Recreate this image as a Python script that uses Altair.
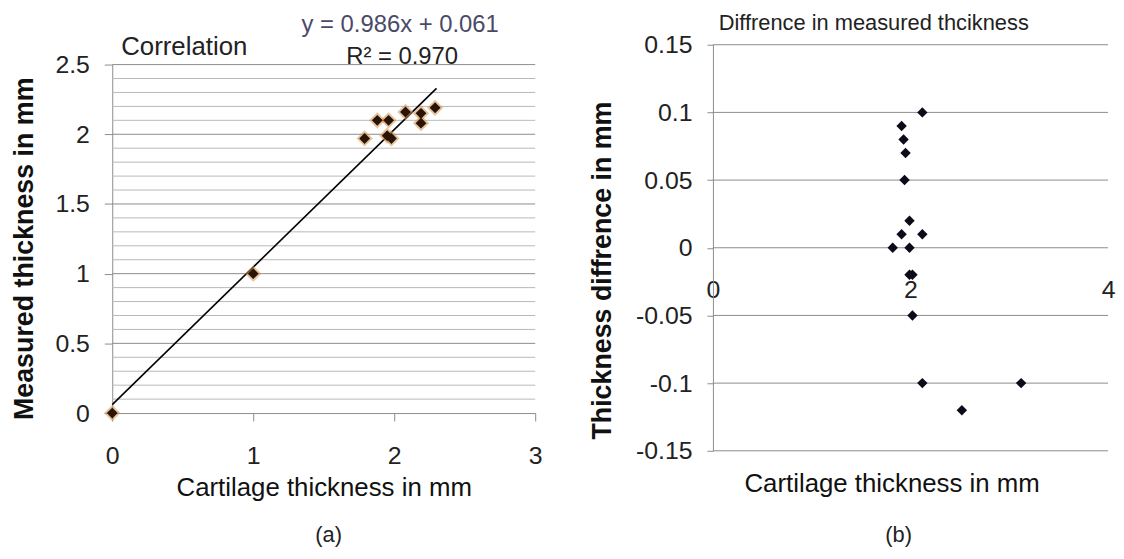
import altair as alt
import pandas as pd

# ---------------- Panel (a): correlation ----------------
cart_a = [0, 1, 1.79, 1.88, 1.96, 1.95, 1.98, 2.08, 2.19, 2.19, 2.29]
meas_a = [0, 1, 1.97, 2.10, 2.10, 1.99, 1.97, 2.16, 2.15, 2.08, 2.19]
trend_x = [0, 2.3]
trend_y = [0.061, 2.329]
a_x_ticks = [0, 1, 2, 3]
a_y_ticks = [0, 0.5, 1, 1.5, 2, 2.5]
a_grid_minor = [0.1, 0.2, 0.3, 0.4, 0.6, 0.7, 0.8, 0.9, 1.1, 1.2, 1.3, 1.4,
                1.6, 1.7, 1.8, 1.9, 2.1, 2.2, 2.3, 2.4]
a_grid_major = [0.5, 1, 1.5, 2, 2.5]

# ---------------- Panel (b): difference ----------------
cart_b = [2.12, 1.91, 1.93, 1.95, 1.94, 1.99, 1.91, 2.12, 1.82, 1.99,
          1.99, 2.02, 2.02, 2.12, 3.12, 2.52]
diff_b = [0.10, 0.09, 0.08, 0.07, 0.05, 0.02, 0.01, 0.01, 0.0, 0.0,
          -0.02, -0.02, -0.05, -0.10, -0.10, -0.12]
b_x_ticks = [0, 2, 4]
b_y_ticks = [-0.15, -0.1, -0.05, 0, 0.05, 0.1, 0.15]

FONT = "Liberation Sans"
GRID = "#8c8c8c"
MINOR = "#b8b8b8"
lab_expr = "datum.value < 0 ? '-' + format(-datum.value, '~g') : format(datum.value, '~g')"

df_a = pd.DataFrame({"cart": cart_a, "meas": meas_a})
df_t = pd.DataFrame({"tx": trend_x, "ty": trend_y})
df_gmin = pd.DataFrame({"g": a_grid_minor})
df_gmaj = pd.DataFrame({"g": a_grid_major})
df_b = pd.DataFrame({"cart": cart_b, "diff": diff_b})
df_gb = pd.DataFrame({"g": b_y_ticks})

PH = 409  # common panel height
xa = alt.Scale(domain=[0, 3], nice=False, zero=False)
ya = alt.Scale(domain=[0, 2.5], range=[371, 20], nice=False, zero=False)
xb = alt.Scale(domain=[0, 4], nice=False, zero=False)
yb = alt.Scale(domain=[-0.15, 0.15], nice=False, zero=False)

axis_common = dict(labelFont=FONT, labelColor="#222222", titleFont=FONT,
                   titleColor="#111111", labelFlush=False, labelOverlap=False,
                   grid=False, labelExpr=lab_expr)

ax_xa = alt.Axis(
    orient="bottom", offset=-38, values=a_x_ticks, tickSize=8,
    tickColor=GRID, domainColor=GRID, labelFontSize=25,
    labelBaseline="middle", labelPadding=35,
    title="Cartilage thickness in mm", titleFontSize=26,
    titleFontWeight="normal", titleX=213, titleY=75,
    titleBaseline="middle", titleAlign="center", **axis_common)
ax_ya = alt.Axis(
    orient="left", values=a_y_ticks, tickSize=8,
    tickColor=GRID, domainColor=GRID, labelFontSize=25,
    labelPadding=15, labelBaseline="middle",
    title="Measured thickness in mm", titleFontSize=27,
    titleFontWeight="bold", titleAngle=270, titleX=-88, titleY=205,
    titleAlign="center", titleBaseline="middle", **axis_common)
ax_xb = alt.Axis(
    orient="bottom", offset=-204, values=b_x_ticks, tickSize=0,
    domain=False, labelFontSize=25, labelBaseline="middle",
    labelPadding=42, title="Cartilage thickness in mm",
    titleFontSize=26, titleFontWeight="normal", titleX=180, titleY=237,
    titleBaseline="middle", titleAlign="center", **axis_common)
ax_yb = alt.Axis(
    orient="left", values=b_y_ticks, tickSize=6,
    tickColor=GRID, domainColor=GRID, labelFontSize=25,
    labelPadding=15, labelBaseline="middle",
    title="Thickness diffrence in mm", titleFontSize=27,
    titleFontWeight="bold", titleAngle=270, titleX=-111, titleY=227,
    titleAlign="center", titleBaseline="middle", **axis_common)


def label(txt, x, y, size, color="#222222", weight="normal", align="center"):
    return alt.Chart(pd.DataFrame({"t": [txt]})).mark_text(
        font=FONT, fontSize=size, color=color, fontWeight=weight,
        align=align, baseline="middle").encode(
        text="t:N", x=alt.value(x), y=alt.value(y))


def anchor(x, y):
    # invisible frame corner so the padded view spans the whole page
    return alt.Chart(pd.DataFrame({"k": [0]})).mark_rule(
        opacity=0, strokeWidth=0.01).encode(
        x=alt.value(x), y=alt.value(y), x2=alt.value(x), y2=alt.value(y))


# --- panel (a) ---
ga_min = alt.Chart(df_gmin).mark_rule(color=MINOR, strokeWidth=1).encode(
    y=alt.Y("g:Q", scale=ya, axis=ax_ya))
ga_maj = alt.Chart(df_gmaj).mark_rule(color=GRID, strokeWidth=1).encode(
    y=alt.Y("g:Q", scale=ya, axis=ax_ya))
trend = alt.Chart(df_t).mark_line(color="black", strokeWidth=1.6).encode(
    x=alt.X("tx:Q", scale=xa, axis=ax_xa),
    y=alt.Y("ty:Q", scale=ya, axis=ax_ya))
halo = alt.Chart(df_a).mark_point(shape="diamond", filled=True, size=270,
                                  color="#d2914f", opacity=0.55).encode(
    x=alt.X("cart:Q", scale=xa, axis=ax_xa),
    y=alt.Y("meas:Q", scale=ya, axis=ax_ya))
pts_a = alt.Chart(df_a).mark_point(shape="diamond", filled=True, size=120,
                                   color="#2a1406", opacity=1).encode(
    x=alt.X("cart:Q", scale=xa, axis=ax_xa),
    y=alt.Y("meas:Q", scale=ya, axis=ax_ya))

left = alt.layer(
    anchor(-105, -35),
    ga_min, ga_maj, trend, halo, pts_a,
    label("Correlation", 9, 2, 26, align="left"),
    label("y = 0.986x + 0.061", 290, -20, 24, color="#4a4a68"),
    label("R² = 0.970", 292, 12, 24),
    label("(a)", 218, 494, 22),
).properties(width=426, height=PH)

# --- panel (b) ---
gb = alt.Chart(df_gb).mark_rule(color=GRID, strokeWidth=1).encode(
    y=alt.Y("g:Q", scale=yb, axis=ax_yb))
pts_b = alt.Chart(df_b).mark_point(shape="diamond", filled=True, size=110,
                                   color="#0b0b1a", opacity=1).encode(
    x=alt.X("cart:Q", scale=xb, axis=ax_xb),
    y=alt.Y("diff:Q", scale=yb, axis=ax_yb))

right = alt.layer(
    anchor(406, 516),
    gb, pts_b,
    label("Diffrence in  measured thcikness", 162, -22, 22),
    label("(b)", 187, 494, 22),
).properties(width=398, height=PH)

chart = alt.hconcat(left, right, spacing=179, bounds="flush").properties(
    padding=0, background="white"
).configure_view(stroke=None)

chart.save("out.html", embed_options={"renderer": "svg", "actions": False})
